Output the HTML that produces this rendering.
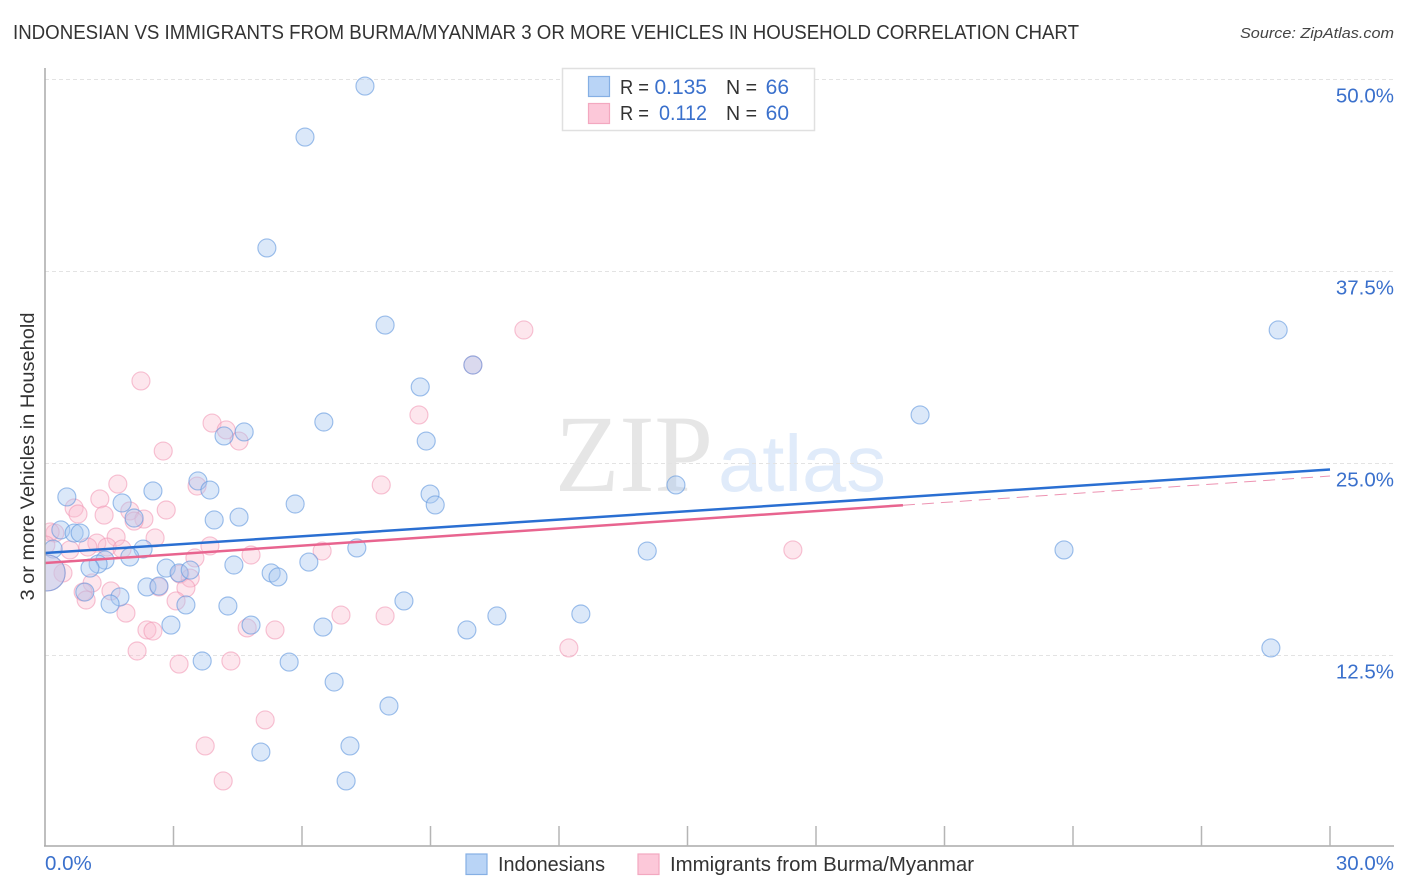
<!DOCTYPE html>
<html lang="en">
<head>
<meta charset="utf-8">
<title>Indonesian vs Immigrants from Burma/Myanmar correlation chart</title>
<style>
html,body{margin:0;padding:0;background:#fff;width:1406px;height:892px;overflow:hidden}
svg{display:block;font-family:"Liberation Sans",sans-serif}
</style>
</head>
<body>
<svg id="chart" width="1406" height="892" viewBox="0 0 1406 892" xmlns="http://www.w3.org/2000/svg">
  <defs>
    <clipPath id="plot-clip"><rect x="45" y="60" width="1349" height="786"/></clipPath>
  </defs>
  <rect width="1406" height="892" fill="#fff"/>
  <text x="13" y="39" font-size="20" fill="#333" textLength="1066" lengthAdjust="spacingAndGlyphs">INDONESIAN VS IMMIGRANTS FROM BURMA/MYANMAR 3 OR MORE VEHICLES IN HOUSEHOLD CORRELATION CHART</text>
  <text x="1394" y="38" font-size="15" font-style="italic" fill="#444" text-anchor="end" textLength="154" lengthAdjust="spacingAndGlyphs">Source: ZipAtlas.com</text>

  <text x="555" y="491" font-family="'Liberation Serif',serif" font-size="110" fill="#e6e6e6" textLength="158" lengthAdjust="spacingAndGlyphs">ZIP</text>
  <text x="718" y="491" font-size="80" fill="#e0ebfa" textLength="168" lengthAdjust="spacingAndGlyphs">atlas</text>

  <g id="grid"></g>
  <g id="marks" clip-path="url(#plot-clip)"></g>
  <g id="trends"></g>
  <g id="axes"></g>

  <text transform="translate(34,456.5) rotate(-90)" font-size="19" fill="#333" text-anchor="middle" textLength="288" lengthAdjust="spacingAndGlyphs">3 or more Vehicles in Household</text>

  <g>
    <rect x="562.5" y="68.5" width="252" height="62" fill="#fff" stroke="#e0e0e0" stroke-width="1.5"/>
    <rect x="588.5" y="76.5" width="21" height="20" fill="#b9d4f6" stroke="#85afe4" stroke-width="1.2"/>
    <rect x="588.5" y="103.5" width="21" height="20" fill="#fcc8d9" stroke="#f3a8c0" stroke-width="1.2"/>
    <g font-size="20" fill="#333">
      <text x="620" y="94" textLength="29" lengthAdjust="spacingAndGlyphs">R =</text>
      <text x="620" y="120" textLength="29" lengthAdjust="spacingAndGlyphs">R =</text>
      <text x="726" y="94" textLength="31" lengthAdjust="spacingAndGlyphs">N =</text>
      <text x="726" y="120" textLength="31" lengthAdjust="spacingAndGlyphs">N =</text>
    </g>
    <g font-size="21" fill="#3a70cc">
      <text x="707" y="94" text-anchor="end">0.135</text>
      <text x="707" y="120" text-anchor="end" textLength="48" lengthAdjust="spacingAndGlyphs">0.112</text>
      <text x="789" y="94" text-anchor="end">66</text>
      <text x="789" y="120" text-anchor="end">60</text>
    </g>
  </g>

  <g>
    <rect x="466" y="854" width="21" height="20.5" fill="#b9d4f6" stroke="#85afe4" stroke-width="1.2"/>
    <text x="498" y="871" font-size="20" fill="#333" textLength="107" lengthAdjust="spacingAndGlyphs">Indonesians</text>
    <rect x="638" y="854" width="21" height="20.5" fill="#fcc8d9" stroke="#f3a8c0" stroke-width="1.2"/>
    <text x="670" y="871" font-size="20" fill="#333" textLength="304" lengthAdjust="spacingAndGlyphs">Immigrants from Burma/Myanmar</text>
  </g>
</svg>
<script>
const indonesianX = [7.47,6.07,5.18,7.94,8.76,9.99,28.79,20.43,6.51,4.65,4.18,8.90,3.57,2.52,3.85,0.51,1.80,5.84,8.99,9.11,14.73,3.95,4.53,2.08,0.37,0.68,0.82,0.19,2.29,1.98,1.40,1.24,1.05,7.28,14.06,23.79,6.16,4.41,2.83,3.13,3.39,5.28,5.44,0.93,2.38,2.66,1.75,1.52,3.29,4.27,8.38,10.55,12.51,2.94,4.81,6.49,9.85,28.62,3.67,5.70,6.75,8.03,7.12,5.04,7.03];
const indonesianY = [49.54,46.22,39.00,33.98,29.95,31.38,33.66,28.13,27.67,27.02,26.76,26.43,23.83,23.18,23.24,22.79,22.40,22.33,22.98,22.27,23.57,21.29,21.48,21.42,20.64,20.44,20.44,19.40,19.40,18.88,18.68,18.42,18.16,19.47,19.27,19.34,18.55,18.36,18.16,17.84,18.03,17.84,17.58,16.60,16.93,16.99,16.28,15.82,15.76,15.69,16.02,15.04,15.17,14.45,14.45,14.32,14.13,12.96,12.11,12.04,10.74,9.18,6.58,6.18,4.30];
const immigrantX = [2.76,1.70,1.28,0.68,0.77,1.38,1.98,2.83,2.31,2.08,3.55,0.23,0.12,1.21,1.00,0.58,1.66,1.45,1.80,2.57,3.85,3.50,4.81,6.47,0.42,1.10,1.54,0.89,0.96,3.15,3.39,3.29,2.66,3.06,1.89,2.38,2.52,4.72,5.37,6.91,2.15,3.13,4.34,2.24,3.90,4.23,4.53,11.18,8.73,9.99,7.85,17.46,7.94,12.23,5.14,3.74,4.16,0.02];
const immigrantY = [25.78,23.63,22.66,22.07,21.68,21.61,21.88,21.94,21.35,21.22,23.50,20.44,20.51,19.79,19.53,19.34,20.18,19.53,19.40,20.12,19.60,18.82,19.01,19.27,17.84,17.19,16.67,16.60,16.08,17.77,17.51,16.86,16.93,16.02,15.23,14.13,14.06,14.26,14.13,15.10,12.76,11.91,12.11,30.34,27.60,27.15,26.43,33.66,28.13,31.38,23.57,19.34,15.04,12.96,8.27,6.58,4.30,19.66];
const clusterX = [0.05];
const clusterY = [17.84];
const indonesianTrendX = [0, 30];
const indonesianTrendY = [19.14, 24.58];
const immigrantTrendX = [0, 20.03];
const immigrantTrendY = [18.49, 22.25];
const immigrantForecastX = [20.03, 30];
const immigrantForecastY = [22.25, 24.15];
const yTickValues = [12.5, 25, 37.5, 50];
const yTickLabels = ["12.5%", "25.0%", "37.5%", "50.0%"];
const xTickValues = [3, 6, 9, 12, 15, 18, 21, 24, 27, 30];
const xEndValues = [0, 30];
const xEndLabels = ["0.0%", "30.0%"];

const NS = "http://www.w3.org/2000/svg";
const xScale = v => 45 + v * (1285 / 30);
const yScale = v => 847 - v * 15.36;
function make(tag, attrs, parent) {
  const el = document.createElementNS(NS, tag);
  for (const k in attrs) el.setAttribute(k, attrs[k]);
  parent.appendChild(el);
  return el;
}
const gridG = document.getElementById("grid");
const marksG = document.getElementById("marks");
const trendsG = document.getElementById("trends");
const axesG = document.getElementById("axes");

yTickValues.forEach((v, i) => {
  const gy = Math.round(yScale(v)) + 0.5;
  const line = make("line", {x1: 45, x2: 1394, y1: gy, y2: gy, stroke: "#e3e3e3", "stroke-width": 1, "stroke-dasharray": "4 3"}, gridG);
  
  
  const label = make("text", {x: 1394, y: yScale(v) + 23.5, "font-size": 20.5, fill: "#3a70cc", "text-anchor": "end"}, axesG);
  label.textContent = yTickLabels[i];
  
  
});

const leftAxis = make("line", {x1: 45, x2: 45, y1: 68, y2: 846, stroke: "#aaa", "stroke-width": 1.5}, axesG);


const bottomAxis = make("line", {x1: 44, x2: 1394, y1: 846, y2: 846, stroke: "#aaa", "stroke-width": 1.5}, axesG);


xTickValues.forEach(v => {
  const tick = make("line", {x1: xScale(v), x2: xScale(v), y1: 826, y2: 846, stroke: "#b5b5b5", "stroke-width": 1.5}, axesG);
  
  
});
xEndValues.forEach((v, i) => {
  const label = make("text", {x: i === 0 ? xScale(v) : 1394, y: 870, "font-size": 20.5, fill: "#3a70cc", "text-anchor": i === 0 ? "start" : "end"}, axesG);
  label.textContent = xEndLabels[i];
  
  
});

const blueStyle = {fill: "#a9c9f1", "fill-opacity": 0.42, stroke: "#5f96de", "stroke-opacity": 0.6, "stroke-width": 1.15};
const pinkStyle = {fill: "#fabdd0", "fill-opacity": 0.38, stroke: "#f092b1", "stroke-opacity": 0.55, "stroke-width": 1.15};
function dot(x, y, r, style, parent) {
  return make("circle", Object.assign({cx: xScale(x), cy: yScale(y), r: r}, style), parent);
}
immigrantX.forEach((x, i) => {
  const c = dot(x, immigrantY[i], 9, pinkStyle, marksG);
  
  
});
indonesianX.forEach((x, i) => {
  const c = dot(x, indonesianY[i], 9, blueStyle, marksG);
  
  
});
clusterX.forEach((x, i) => {
  const p = dot(x, clusterY[i], 18, pinkStyle, marksG);
  
  
  const b = dot(x, clusterY[i], 18, blueStyle, marksG);
  
  
});

const forecast = make("line", {x1: xScale(immigrantForecastX[0]), x2: xScale(immigrantForecastX[1]), y1: yScale(immigrantForecastY[0]), y2: yScale(immigrantForecastY[1]), stroke: "#e8789f", "stroke-width": 1, "stroke-dasharray": "12 7", "stroke-opacity": 0.8}, trendsG);


const pinkTrend = make("line", {x1: xScale(immigrantTrendX[0]), x2: xScale(immigrantTrendX[1]), y1: yScale(immigrantTrendY[0]), y2: yScale(immigrantTrendY[1]), stroke: "#e8648f", "stroke-width": 2.5}, trendsG);


const blueTrend = make("line", {x1: xScale(indonesianTrendX[0]), x2: xScale(indonesianTrendX[1]), y1: yScale(indonesianTrendY[0]), y2: yScale(indonesianTrendY[1]), stroke: "#2a6fd2", "stroke-width": 2.5}, trendsG);


</script>
</body>
</html>
